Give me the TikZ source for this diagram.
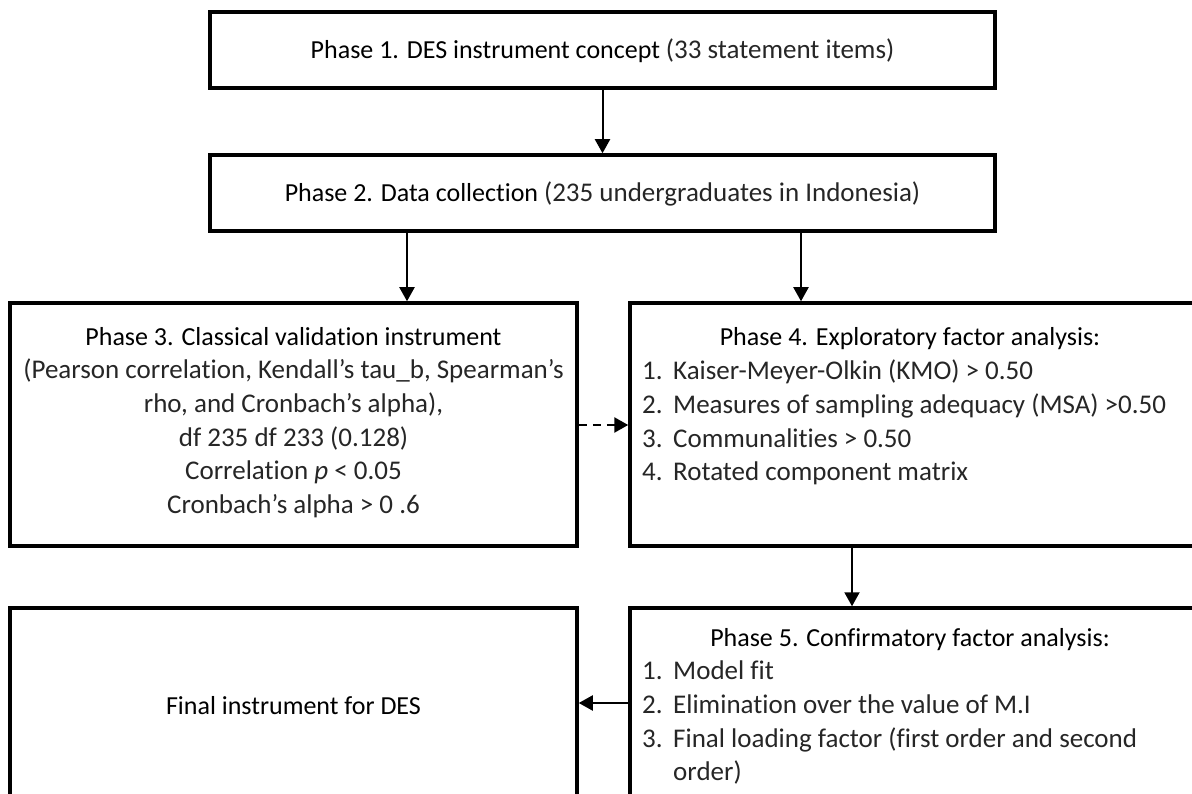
\documentclass[tikz,border=0pt]{standalone}
\usepackage{fontspec}
\setmainfont{Carlito}[Ligatures=NoCommon]
\usetikzlibrary{arrows.meta}
\tikzset{
  box/.style={draw=black, line width=3.5pt, rectangle, inner sep=0pt, fill=white},
  arr/.style={line width=2pt, -{Triangle[length=14pt,width=15pt]}},
  darr/.style={line width=2.5pt, dash pattern=on 8pt off 6pt, -{Triangle[length=14pt,width=15pt]}},
  txt/.style={inner sep=0pt, font=\fontsize{26}{33.6}\selectfont},
}
\newcommand{\lt}[1]{{\fontsize{27}{33.6}\selectfont\color{black!85}#1}}
\newcommand{\itm}[2]{\makebox[31pt][l]{\lt{#1}}\lt{#2}}
\begin{document}
\begin{tikzpicture}[x=1pt,y=-1pt]
\path[use as bounding box] (0,0) rectangle (1192,794);
\clip (0,0) rectangle (1192,794);
% boxes
\node[box, minimum width=785pt, minimum height=76pt] (p1) at (602.5,50) {};
\node[box, minimum width=785pt, minimum height=76pt] (p2) at (602.5,193) {};
\node[box, minimum width=567pt, minimum height=243pt] (p3) at (293.5,424.5) {};
\node[box, minimum width=570pt, minimum height=243pt] (p4) at (915,424.5) {};
\node[box, minimum width=570pt, minimum height=272pt] (p5) at (915,744) {};
\node[box, minimum width=567pt, minimum height=272pt] (p6) at (293.5,744) {};
% texts
\node[txt] (t1) at (602.5,51) {Phase 1. DES instrument concept \lt{(33 statement items)}};
\node[txt] (t2) at (602.5,194) {Phase 2. Data collection \lt{(235 undergraduates in Indonesia)}};
\node[txt, align=center, anchor=north] (t3) at (293.5,327) {Phase 3. Classical validation instrument\\
\lt{(Pearson correlation, Kendall's tau\_b, Spearman's}\\
\lt{rho, and Cronbach’s alpha),}\\
\lt{df 235 df 233 (0.128)}\\
\lt{Correlation \textit{p} < 0.05}\\
\lt{Cronbach’s alpha > 0 .6}};
\node[txt, anchor=north] (h4) at (910,327) {Phase 4. Exploratory factor analysis:};
\node[txt, align=left, anchor=north west] (l4) at (642,360) {\itm{1.}{Kaiser-Meyer-Olkin (KMO) > 0.50}\\
\itm{2.}{Measures of sampling adequacy (MSA) >0.50}\\
\itm{3.}{Communalities > 0.50}\\
\itm{4.}{Rotated component matrix}};
\node[txt, anchor=north] (h5) at (910,628) {Phase 5. Confirmatory factor analysis:};
\node[txt, align=left, anchor=north west] (l5) at (642,661) {\itm{1.}{Model fit}\\
\itm{2.}{Elimination over the value of M.I}\\
\itm{3.}{Final loading factor (first order and second}\\
\makebox[31pt][l]{}\lt{order)}};
\node[txt] (t6) at (293.5,706) {Final instrument for DES};
% connectors
\coordinate (c3) at (407,0);
\coordinate (c4) at (801,0);
\coordinate (c5) at (852,0);
\coordinate (cd) at (0,425);
\coordinate (cf) at (0,703);
\draw[arr] (p1.south) -- (p2.north);
\draw[arr] (p2.south -| c3) -- (p3.north -| c3);
\draw[arr] (p2.south -| c4) -- (p4.north -| c4);
\draw[darr] (p3.east |- cd) -- (p4.west |- cd);
\draw[arr] (p4.south -| c5) -- (p5.north -| c5);
\draw[arr] (p5.west |- cf) -- (p6.east |- cf);
\end{tikzpicture}
\end{document}
